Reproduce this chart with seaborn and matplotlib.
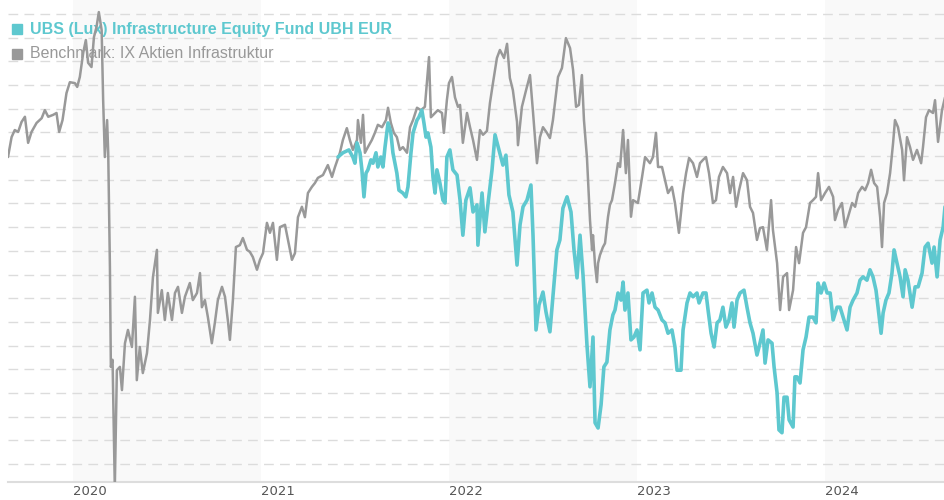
import numpy as np
import pandas as pd
import matplotlib
matplotlib.use("Agg")
import matplotlib.pyplot as plt
import seaborn as sns

# ---------------- data (years since 1 Jan 2020, indexed performance) ----------------
bench_years = [
    -0.345, -0.326, -0.309, -0.291, -0.273, -0.255, -0.238, -0.220, -0.193, -0.166,
    -0.149, -0.131, -0.105, -0.087, -0.073, -0.055, -0.034, -0.016, 0.011, 0.023,
    0.037, 0.055, 0.069, 0.081, 0.099, 0.112, 0.126, 0.138, 0.153, 0.161,
    0.170, 0.182, 0.188, 0.197, 0.202, 0.211, 0.223, 0.234, 0.250, 0.261,
    0.277, 0.293, 0.314, 0.330, 0.340, 0.356, 0.372, 0.394, 0.410, 0.426,
    0.447, 0.452, 0.473, 0.489, 0.505, 0.527, 0.543, 0.559, 0.580, 0.596,
    0.622, 0.638, 0.660, 0.676, 0.686, 0.702, 0.718, 0.739, 0.755, 0.771,
    0.793, 0.809, 0.824, 0.835, 0.851, 0.867, 0.888, 0.904, 0.926, 0.941,
    0.957, 0.979, 0.995, 1.011, 1.032, 1.048, 1.064, 1.085, 1.101, 1.128,
    1.144, 1.165, 1.181, 1.197, 1.218, 1.234, 1.250, 1.271, 1.287, 1.303,
    1.330, 1.356, 1.378, 1.394, 1.420, 1.436, 1.457, 1.473, 1.489, 1.511,
    1.516, 1.532, 1.543, 1.553, 1.569, 1.590, 1.606, 1.622, 1.644, 1.665,
    1.676, 1.691, 1.707, 1.723, 1.739, 1.755, 1.777, 1.793, 1.809, 1.830,
    1.851, 1.872, 1.894, 1.904, 1.926, 1.941, 1.963, 1.973, 1.989, 2.000,
    2.016, 2.032, 2.048,
    2.059, 2.074, 2.096, 2.112, 2.128, 2.149, 2.165, 2.181, 2.202, 2.218,
    2.234, 2.255, 2.271, 2.293, 2.309, 2.324, 2.340, 2.362, 2.367, 2.388,
    2.410, 2.431, 2.447, 2.468, 2.484, 2.500, 2.521, 2.537, 2.553, 2.580,
    2.601, 2.622, 2.644, 2.660, 2.676, 2.691, 2.707, 2.718, 2.734, 2.750,
    2.761, 2.766, 2.777, 2.787, 2.793, 2.803, 2.819, 2.830, 2.846, 2.856,
    2.867, 2.883, 2.899,
    2.910, 2.926, 2.941, 2.952, 2.968, 2.979, 3.005, 3.027, 3.043, 3.069,
    3.085, 3.101, 3.112, 3.133, 3.149, 3.165, 3.186, 3.202, 3.223, 3.245,
    3.261, 3.277, 3.298, 3.319, 3.335, 3.351, 3.367, 3.383, 3.404, 3.420,
    3.436, 3.457, 3.479, 3.495, 3.511, 3.527, 3.543, 3.564, 3.585, 3.601,
    3.617, 3.638, 3.654,
    3.670, 3.691, 3.713, 3.723, 3.745, 3.761, 3.777, 3.798, 3.809, 3.830,
    3.846, 3.862, 3.883, 3.899, 3.920, 3.936, 3.952, 3.963, 3.979, 4.000,
    4.021, 4.043, 4.053, 4.069, 4.090, 4.106, 4.122, 4.144, 4.160, 4.176,
    4.197, 4.213, 4.229, 4.245, 4.261, 4.277, 4.293, 4.303, 4.314, 4.330,
    4.346, 4.362, 4.372, 4.388, 4.410, 4.420, 4.436, 4.452, 4.468, 4.489,
    4.511, 4.521, 4.537, 4.553, 4.574, 4.585, 4.601, 4.622, 4.638,
]
bench_values = [
    164.8, 169.0, 170.5, 170.1, 172.2, 173.3, 167.8, 170.1, 172.0, 173.0,
    174.7, 173.3, 173.7, 174.1, 170.1, 172.6, 178.3, 180.6, 180.4, 179.6,
    181.7, 186.8, 189.5, 184.7, 183.8, 190.1, 192.3, 195.4, 191.6, 176.8,
    164.8, 172.6, 165.7, 141.6, 120.5, 122.0, 95.0, 119.8, 120.5, 115.6,
    125.5, 128.3, 124.7, 135.3, 117.7, 124.7, 119.2, 123.4, 130.4, 139.5,
    145.2, 131.9, 136.7, 130.4, 136.1, 130.4, 136.1, 137.4, 131.9, 135.3,
    138.2, 134.6, 136.1, 140.3, 133.1, 134.6, 131.0, 125.5, 129.8, 134.6,
    137.4, 135.3, 130.4, 126.2, 134.6, 145.8, 146.2, 147.7, 145.2, 144.8,
    143.7, 141.0, 143.1, 144.5, 150.9, 148.8, 150.9, 143.1, 150.0, 150.5,
    147.3, 143.1, 144.5, 152.1, 154.3, 152.1, 157.2, 158.5, 159.3, 160.4,
    161.0, 163.1, 160.6, 162.7, 165.7, 168.4, 170.9, 168.4, 166.3, 168.4,
    172.6, 167.8, 173.7, 165.7, 166.9, 168.4, 169.9, 171.6, 171.1, 172.6,
    175.2, 172.0, 169.9, 169.0, 166.3, 166.9, 165.7, 171.1, 172.6, 175.2,
    174.7, 175.4, 185.9, 173.2, 174.1, 174.7, 174.1, 169.9, 176.8, 180.4,
    181.7, 177.4, 175.4,
    175.8, 167.8, 174.1, 171.1, 168.4, 164.2, 170.5, 169.5, 170.3, 176.2,
    180.4, 185.7, 187.4, 185.7, 188.7, 181.5, 178.9, 172.2, 167.3, 175.4,
    178.9, 182.1, 174.3, 163.5, 169.0, 171.1, 169.9, 168.8, 172.6, 181.7,
    183.6, 189.9, 187.8, 183.2, 175.4, 175.8, 182.1, 172.6, 164.6, 151.5,
    145.2, 148.3, 142.0, 138.4, 142.4, 144.1, 145.8, 146.6, 152.2, 154.7,
    155.7, 159.3, 163.5,
    162.7, 170.5, 161.4, 168.4, 152.2, 155.7, 155.1, 160.6, 164.8, 163.5,
    164.8, 169.9, 162.7, 162.7, 159.9, 157.2, 158.5, 155.1, 148.8, 157.2,
    161.4, 164.6, 163.5, 160.6, 163.5, 164.2, 164.8, 161.4, 155.1, 155.7,
    160.6, 162.7, 161.4, 157.2, 160.6, 154.3, 157.8, 161.4, 159.9, 154.3,
    153.0, 147.3, 149.8,
    150.0, 145.2, 155.7, 149.4, 142.4, 132.5, 139.5, 140.3, 132.5, 136.7,
    145.8, 142.4, 148.8, 150.0, 155.1, 155.7, 156.4, 161.4, 155.7, 157.2,
    158.5, 156.4, 151.5, 153.6, 155.1, 150.0, 152.1, 155.1, 154.3, 157.2,
    158.5, 157.8, 159.3, 162.1, 159.3, 158.5, 152.1, 145.8, 155.1, 157.2,
    161.4, 167.8, 172.6, 171.1, 166.3, 159.9, 169.0, 166.9, 164.2, 166.3,
    163.5, 166.9, 173.2, 174.7, 174.1, 176.8, 168.0, 174.7, 177.4,
]

fund_years = [
    1.410, 1.436, 1.468, 1.489, 1.500, 1.511, 1.527, 1.537, 1.548, 1.559,
    1.569, 1.585, 1.596, 1.612, 1.622, 1.638, 1.649, 1.660, 1.676, 1.691,
    1.702, 1.723, 1.734, 1.755, 1.771, 1.782, 1.798, 1.809, 1.830, 1.840,
    1.856, 1.867, 1.878, 1.888, 1.904, 1.915, 1.926, 1.936, 1.952, 1.968,
    1.979, 1.989, 2.005, 2.021, 2.043, 2.059, 2.074, 2.090, 2.112, 2.128,
    2.149, 2.154, 2.176, 2.191, 2.207, 2.229, 2.245, 2.266, 2.287, 2.303,
    2.319, 2.340, 2.362, 2.378, 2.394, 2.415, 2.436, 2.447, 2.463, 2.479,
    2.500, 2.516, 2.537, 2.553, 2.574, 2.590, 2.606, 2.628, 2.649, 2.665,
    2.681, 2.697, 2.713, 2.734, 2.750, 2.766, 2.777, 2.793, 2.809, 2.824,
    2.840, 2.856, 2.872, 2.883, 2.899, 2.915, 2.926, 2.936, 2.952, 2.968,
    2.984, 3.000, 3.016, 3.032, 3.053, 3.064, 3.080, 3.096, 3.112, 3.133,
    3.149, 3.165, 3.186, 3.202, 3.213, 3.234, 3.245, 3.266, 3.282, 3.298,
    3.319, 3.330, 3.351, 3.367, 3.378, 3.394, 3.410, 3.426, 3.441, 3.457,
    3.473, 3.489, 3.505, 3.516, 3.532, 3.548, 3.569, 3.585, 3.601, 3.617,
    3.638, 3.654, 3.670, 3.681, 3.697, 3.718, 3.729, 3.745, 3.755, 3.771,
    3.782, 3.798, 3.809, 3.830, 3.840, 3.851, 3.867, 3.883, 3.899, 3.915,
    3.936, 3.952, 3.963, 3.979, 3.995, 4.011, 4.027, 4.043, 4.064, 4.080,
    4.096, 4.117, 4.133, 4.149, 4.170, 4.186, 4.202, 4.223, 4.239, 4.255,
    4.271, 4.282, 4.298, 4.309, 4.324, 4.340, 4.356, 4.367, 4.383, 4.399,
    4.415, 4.426, 4.441, 4.463, 4.479, 4.495, 4.516, 4.532, 4.548, 4.569,
    4.580, 4.596, 4.612, 4.628, 4.638,
]
fund_values = [
    164.8, 165.7, 166.3, 164.8, 163.5, 167.8, 165.7, 162.1, 156.4, 161.4,
    162.1, 164.2, 163.5, 165.7, 162.7, 164.8, 162.7, 166.9, 172.0, 169.9,
    165.7, 161.4, 157.8, 157.2, 156.4, 158.5, 165.7, 169.9, 172.6, 173.2,
    174.7, 172.0, 169.0, 169.9, 166.9, 160.6, 157.2, 162.1, 159.3, 155.7,
    155.1, 164.8, 166.3, 162.1, 161.0, 155.7, 148.3, 155.7, 158.3, 153.2,
    154.7, 146.2, 157.2, 149.0, 154.7, 162.1, 169.5, 166.3, 163.1, 165.2,
    156.8, 153.2, 142.0, 150.5, 154.3, 155.7, 158.9, 148.3, 128.3, 133.6,
    136.3, 132.1, 127.9, 135.3, 145.2, 147.3, 154.0, 156.4, 153.2, 145.2,
    139.3, 148.3, 139.9, 125.1, 116.3, 126.8, 108.7, 107.6, 112.5, 120.5,
    121.5, 128.3, 131.5, 132.5, 136.1, 134.6, 138.4, 132.5, 136.1, 126.2,
    126.8, 128.3, 124.1, 136.1, 136.7, 134.0, 136.1, 133.1, 132.5, 130.4,
    129.8, 127.6, 128.3, 124.7, 119.8, 119.8, 128.3, 134.0, 136.1, 135.3,
    136.1, 134.0, 136.1, 136.1, 132.5, 127.6, 124.7, 129.8, 130.4, 133.1,
    128.9, 130.4, 134.0, 128.9, 134.6, 136.1, 136.7, 133.1, 129.8, 127.6,
    123.0, 125.5, 128.3, 121.3, 126.2, 125.5, 120.5, 115.0, 107.2, 106.6,
    114.1, 114.1, 109.3, 107.8, 118.4, 118.4, 117.1, 124.1, 126.8, 131.0,
    131.0, 129.8, 138.2, 136.1, 138.2, 136.1, 136.1, 130.4, 133.1, 133.1,
    131.0, 128.3, 133.1, 134.6, 136.1, 138.8, 139.5, 138.8, 141.0, 139.5,
    136.7, 133.1, 127.6, 131.9, 134.6, 136.1, 140.3, 145.2, 142.4, 139.5,
    135.3, 141.0, 138.8, 133.1, 137.4, 137.4, 140.3, 145.8, 146.6, 142.4,
    145.8, 139.5, 147.3, 150.0, 154.3,
]

year_labels = ["2020", "2021", "2022", "2023", "2024"]
shaded_years = [2020, 2022, 2024]
fund_name = "UBS (Lux) Infrastructure Equity Fund UBH EUR"
bench_name = "Benchmark: IX Aktien Infrastruktur"

# ---------------- styling ----------------
TEAL = "#5ec8cf"
GREY = "#999999"

base = pd.Timestamp("2020-01-01")


def to_dates(years):
    return base + pd.to_timedelta(np.asarray(years) * 365.25, unit="D")


bench_df = pd.DataFrame({"date": to_dates(bench_years), "value": bench_values})
fund_df = pd.DataFrame({"date": to_dates(fund_years), "value": fund_values})

sns.set_style("white")
plt.rcParams["font.family"] = ["Liberation Sans", "DejaVu Sans"]

fig = plt.figure(figsize=(9.45, 5.0), dpi=100)
ax = fig.add_axes([8 / 945, 18 / 500, 937 / 945, 482 / 500])

# alternating year bands
for yr in shaded_years:
    ax.axvspan(pd.Timestamp(f"{yr}-01-01"), pd.Timestamp(f"{yr + 1}-01-01"),
               color="#f9f9f9", zorder=0, lw=0)

sns.lineplot(data=bench_df, x="date", y="value", ax=ax, color=GREY,
             linewidth=1.8, zorder=3)
sns.lineplot(data=fund_df, x="date", y="value", ax=ax, color=TEAL,
             linewidth=2.6, zorder=4)

ax.set_xlim(bench_df["date"].iloc[0], bench_df["date"].iloc[-1])
ax.set_ylim(96.2, 197.95)

ax.set_yticks(np.arange(100, 196, 5))
ax.yaxis.grid(True, color="#dcdcdc", linestyle=(0, (7, 4.5)), linewidth=1.0)
ax.xaxis.grid(False)
ax.set_axisbelow(True)
ax.tick_params(axis="y", left=False, labelleft=False)

ax.set_xticks([pd.Timestamp(f"{y}-01-01") for y in year_labels])
ax.set_xticklabels(year_labels, ha="left", fontsize=9.5, color="#555555",
                   family=["DejaVu Sans"])
ax.tick_params(axis="x", length=0, pad=2)
ax.set_xlabel("")
ax.set_ylabel("")

for side in ["top", "right", "left"]:
    ax.spines[side].set_visible(False)
ax.spines["bottom"].set_color("#dddddd")
ax.spines["bottom"].set_linewidth(1.5)

# legend drawn as text in the top-left corner
ax.plot([16.5 / 945], [1 - 29.5 / 500], marker="s", ms=6.5, color=TEAL,
        transform=fig.transFigure, clip_on=False, zorder=2, lw=0)
ax.text(30 / 945, 1 - 29.5 / 500, fund_name, transform=fig.transFigure,
        color=TEAL, fontsize=11.5, fontweight="bold", va="center", ha="left",
        zorder=2)
ax.plot([16.5 / 945], [1 - 53.5 / 500], marker="s", ms=6.5, color=GREY,
        transform=fig.transFigure, clip_on=False, zorder=2, lw=0)
ax.text(30 / 945, 1 - 53.5 / 500, bench_name, transform=fig.transFigure,
        color=GREY, fontsize=11.5, va="center", ha="left", zorder=2)

fig.savefig("out.png", dpi=100, facecolor="white")
